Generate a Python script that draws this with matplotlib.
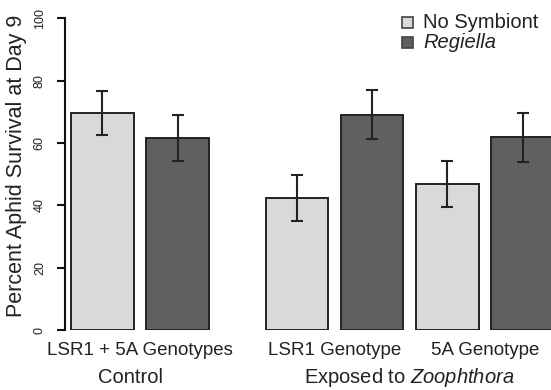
import matplotlib.pyplot as plt
from matplotlib.patches import Rectangle

plt.rcParams['font.family'] = ['Liberation Sans', 'DejaVu Sans']
plt.rcParams['mathtext.fontset'] = 'custom'
plt.rcParams['mathtext.rm'] = 'Liberation Sans'
plt.rcParams['mathtext.it'] = 'Liberation Sans:italic'

# data
genotypes = ['LSR1 + 5A Genotypes', 'LSR1 Genotype', '5A Genotype']
treatments = ['Control', r'Exposed to $\mathit{Zoophthora}$']
series = ['No Symbiont', 'Regiella']
no_symbiont = [69.7, 42.4, 46.9]
no_symbiont_err = [7.0, 7.3, 7.3]
regiella = [61.6, 69.1, 61.8]
regiella_err = [7.4, 7.8, 7.8]

light = '#d9d9db'
dark = '#606062'
edge = '#232323'

# R barplot style positions (width 1, space 0.2, extra gap between treatments)
x_no = [0.5, 3.6, 6.0]
x_re = [1.7, 4.8, 7.2]

fig = plt.figure(figsize=(5.51, 3.90), dpi=100)
ax = fig.add_axes([65 / 551, 60 / 390, 486 / 551, 311.7 / 390])

ax.bar(x_no, no_symbiont, width=1.0, color=light, edgecolor=edge, linewidth=1.4)
ax.bar(x_re, regiella, width=1.0, color=dark, edgecolor=edge, linewidth=1.4)
ax.errorbar(x_no, no_symbiont, yerr=no_symbiont_err, fmt='none',
            ecolor=edge, elinewidth=1.5, capsize=4.3, capthick=1.5)
ax.errorbar(x_re, regiella, yerr=regiella_err, fmt='none',
            ecolor=edge, elinewidth=1.5, capsize=4.3, capthick=1.5)

ax.set_xlim(-0.098, 7.653)
ax.set_ylim(0, 100)
ax.set_yticks([0, 20, 40, 60, 80, 100])
for s in ['top', 'right', 'bottom']:
    ax.spines[s].set_visible(False)
ax.spines['left'].set_linewidth(1.5)
ax.spines['left'].set_color('#111111')
ax.tick_params(axis='y', length=5.8, width=1.5, color='#111111',
               labelsize=9, pad=8, labelcolor='#222222')
plt.setp(ax.get_yticklabels(), rotation=90, va='center')
ax.set_xticks([])

# genotype labels under each pair of bars
for i, g in enumerate(genotypes):
    xc = (x_no[i] + x_re[i]) / 2
    ax.text(xc, -6.6, g, ha='center', va='center', fontsize=13.5,
            color='#222222', clip_on=False)

# treatment labels
ax.text(0.94, -15.3, treatments[0], ha='center', va='center', fontsize=14.5,
        color='#222222', clip_on=False)
ax.text(5.4, -15.3, treatments[1], ha='center', va='center', fontsize=14.5,
        color='#222222', clip_on=False)

fig.text(16.5 / 551, 1 - 165.5 / 390, 'Percent Aphid Survival at Day 9',
         rotation=90, ha='center', va='center', fontsize=15.5, color='#222222')

# legend drawn by hand
cols = [light, dark]
for i, lab in enumerate(series):
    yc = 22.7 + 20 * i
    fig.patches.append(Rectangle((402 / 551, 1 - (yc + 5.5) / 390), 11 / 551, 11 / 390,
                                 transform=fig.transFigure, facecolor=cols[i],
                                 edgecolor='#444444', linewidth=1.2))
    fig.text(423 / 551, 1 - yc / 390, lab, ha='left', va='center',
             fontsize=14.5, color='#222222',
             style='italic' if lab == 'Regiella' else 'normal')

fig.savefig('out.png', dpi=100)
